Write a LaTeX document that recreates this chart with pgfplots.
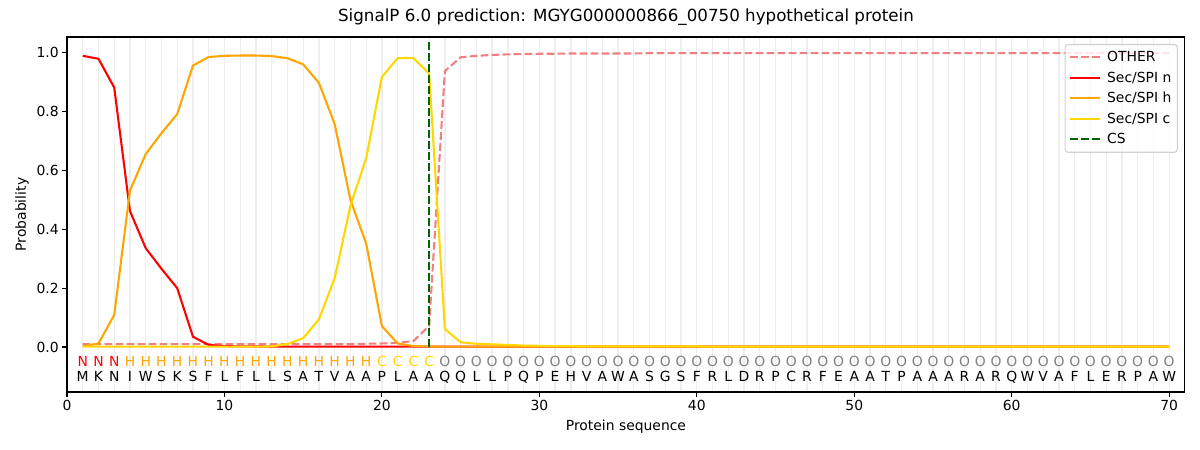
\documentclass[border=0pt]{standalone}
\usepackage{fontspec}
\setmainfont{DejaVu Sans}
\usepackage{pgfplots}
\usepackage{pgfplotstable}
\pgfplotsset{compat=1.18}
\definecolor{other}{RGB}{240,128,128}
\definecolor{secn}{RGB}{255,0,0}
\definecolor{sech}{RGB}{255,165,0}
\definecolor{secc}{RGB}{255,215,0}
\definecolor{csg}{RGB}{0,100,0}
\definecolor{gridc}{RGB}{238,238,238}
\pgfplotstableread{
x other n h c
1 0.010 0.990 0.002 0.001
2 0.010 0.980 0.012 0.001
3 0.010 0.882 0.109 0.001
4 0.010 0.462 0.532 0.001
5 0.010 0.336 0.656 0.001
6 0.010 0.266 0.727 0.001
7 0.010 0.200 0.792 0.001
8 0.010 0.035 0.957 0.001
9 0.010 0.007 0.986 0.001
10 0.010 0.003 0.990 0.001
11 0.010 0.002 0.991 0.001
12 0.010 0.002 0.991 0.001
13 0.010 0.001 0.989 0.002
14 0.010 0.001 0.982 0.010
15 0.010 0.001 0.961 0.030
16 0.010 0.001 0.898 0.094
17 0.010 0.001 0.758 0.234
18 0.010 0.001 0.500 0.480
19 0.011 0.001 0.352 0.642
20 0.012 0.001 0.071 0.918
21 0.014 0.001 0.012 0.982
22 0.020 0.001 0.003 0.982
23 0.072 0.001 0.002 0.930
24 0.938 0.001 0.001 0.061
25 0.985 0.001 0.001 0.016
26 0.990 0.001 0.001 0.011
27 0.993 0.001 0.001 0.009
28 0.995 0.001 0.001 0.007
29 0.996 0.001 0.001 0.005
30 0.997 0.001 0.001 0.004
31 0.997 0.001 0.001 0.003
32 0.998 0.001 0.001 0.003
33 0.998 0.001 0.001 0.002
34 0.998 0.001 0.001 0.002
35 0.998 0.001 0.001 0.002
36 0.998 0.001 0.001 0.002
37 0.999 0.001 0.001 0.002
38 0.999 0.001 0.001 0.002
39 0.999 0.001 0.001 0.002
40 0.999 0.001 0.001 0.002
41 0.999 0.001 0.001 0.001
42 0.999 0.001 0.001 0.001
43 0.999 0.001 0.001 0.001
44 0.999 0.001 0.001 0.001
45 0.999 0.001 0.001 0.001
46 0.999 0.001 0.001 0.001
47 0.999 0.001 0.001 0.001
48 0.999 0.001 0.001 0.001
49 0.999 0.001 0.001 0.001
50 0.999 0.001 0.001 0.001
51 0.999 0.001 0.001 0.001
52 0.999 0.001 0.001 0.001
53 0.999 0.001 0.001 0.001
54 0.999 0.001 0.001 0.001
55 0.999 0.001 0.001 0.001
56 0.999 0.001 0.001 0.001
57 0.999 0.001 0.001 0.001
58 0.999 0.001 0.001 0.001
59 0.999 0.001 0.001 0.001
60 0.999 0.001 0.001 0.001
61 0.999 0.001 0.001 0.001
62 0.999 0.001 0.001 0.001
63 0.999 0.001 0.001 0.001
64 0.999 0.001 0.001 0.001
65 0.999 0.001 0.001 0.001
66 0.999 0.001 0.001 0.001
67 0.999 0.001 0.001 0.001
68 0.999 0.001 0.001 0.001
69 0.999 0.001 0.001 0.001
70 0.999 0.001 0.001 0.001
}\probs
\begin{document}
\begin{tikzpicture}[x=1pt,y=1pt,
  res/.style={font=\fontsize{13.9}{16}\selectfont, inner sep=0pt, anchor=base}]
\path[use as bounding box] (-67,-58) rectangle (1133,392);
\begin{axis}[at={(0,0)}, anchor=south west, scale only axis,
  width=1118pt, height=355pt,
  xmin=0, xmax=71, ymin=-0.153, ymax=1.054,
  xtick={0,10,20,30,40,50,60,70},
  ytick={0,0.2,0.4,0.6,0.8,1.0},
  yticklabel style={/pgf/number format/.cd, fixed, fixed zerofill, precision=1},
  /pgf/number format/assume math mode=true,
  tick label style={font=\fontsize{13.9}{16}\selectfont},
  tick align=outside, tick pos=left, major tick length=4.86pt,
  tick style={line width=1.1pt, black},
  axis line style={line width=1.1pt},
  minor xtick={1,2,...,70}, minor tick length=0pt,
  xminorgrids=true, minor grid style={gridc, line width=1.3pt},
  title={SignalP 6.0 prediction: MGYG000000866\_00750 hypothetical protein},
  title style={at={(rel axis cs:0.5,1)}, anchor=center, yshift=14pt, font=\fontsize{16.7}{20}\selectfont},
  xlabel={Protein sequence},
  xlabel style={at={(rel axis cs:0.5,0)}, anchor=center, yshift=-35pt, font=\fontsize{13.9}{16}\selectfont},
  ylabel={Probability},
  ylabel style={at={(rel axis cs:0,0.5)}, anchor=center, yshift=45pt, font=\fontsize{13.9}{16}\selectfont},
  legend style={at={(rel axis cs:1,1)}, anchor=north east, xshift=-7pt, yshift=-7pt,
    draw=black!18, rounded corners=3pt, fill=white, fill opacity=0.8, text opacity=1,
    font=\fontsize{13.9}{16}\selectfont, row sep=4.6pt, inner xsep=4pt, inner ysep=5pt,
    line width=1.1pt},
  legend cell align=left,
  legend image code/.code={\draw[#1] (0pt,0pt) -- (30pt,0pt); \path (34pt,0pt);},
]
\addplot[other, line width=2.08pt, dash pattern=on 7.7pt off 3.3pt] table[x=x,y=other] {\probs};
\addlegendentry{OTHER}
\addplot[secn, line width=2.08pt] table[x=x,y=n] {\probs};
\addlegendentry{Sec/SPI n}
\addplot[sech, line width=2.08pt] table[x=x,y=h] {\probs};
\addlegendentry{Sec/SPI h}
\addplot[secc, line width=2.08pt] table[x=x,y=c] {\probs};
\addlegendentry{Sec/SPI c}
\addplot[csg, line width=2.08pt, dash pattern=on 7.7pt off 3.3pt] coordinates {(23,0) (23,1.04)};
\addlegendentry{CS}
\foreach \i in {1,...,3}{\edef\tmp{\noexpand\node[res, text=secn] at (axis cs:\i,-0.065) {N};}\tmp}
\foreach \i in {4,...,19}{\edef\tmp{\noexpand\node[res, text=sech] at (axis cs:\i,-0.065) {H};}\tmp}
\foreach \i in {20,...,23}{\edef\tmp{\noexpand\node[res, text=secc] at (axis cs:\i,-0.065) {C};}\tmp}
\foreach \i in {24,...,70}{\edef\tmp{\noexpand\node[res, text=gray] at (axis cs:\i,-0.065) {O};}\tmp}
\foreach \i/\c in {1/M,2/K,3/N,4/I,5/W,6/S,7/K,8/S,9/F,10/L,11/F,12/L,13/L,14/S,15/A,16/T,17/V,18/A,19/A,20/P,21/L,22/A,23/A,24/Q,25/Q,26/L,27/L,28/P,29/Q,30/P,31/E,32/H,33/V,34/A,35/W,36/A,37/S,38/G,39/S,40/F,41/R,42/L,43/D,44/R,45/P,46/C,47/R,48/F,49/E,50/A,51/A,52/T,53/P,54/A,55/A,56/A,57/R,58/A,59/R,60/Q,61/W,62/V,63/A,64/F,65/L,66/E,67/R,68/P,69/A,70/W}{\edef\tmp{\noexpand\node[res, text=black] at (axis cs:\i,-0.118) {\c};}\tmp}
\end{axis}
\end{tikzpicture}
\end{document}
